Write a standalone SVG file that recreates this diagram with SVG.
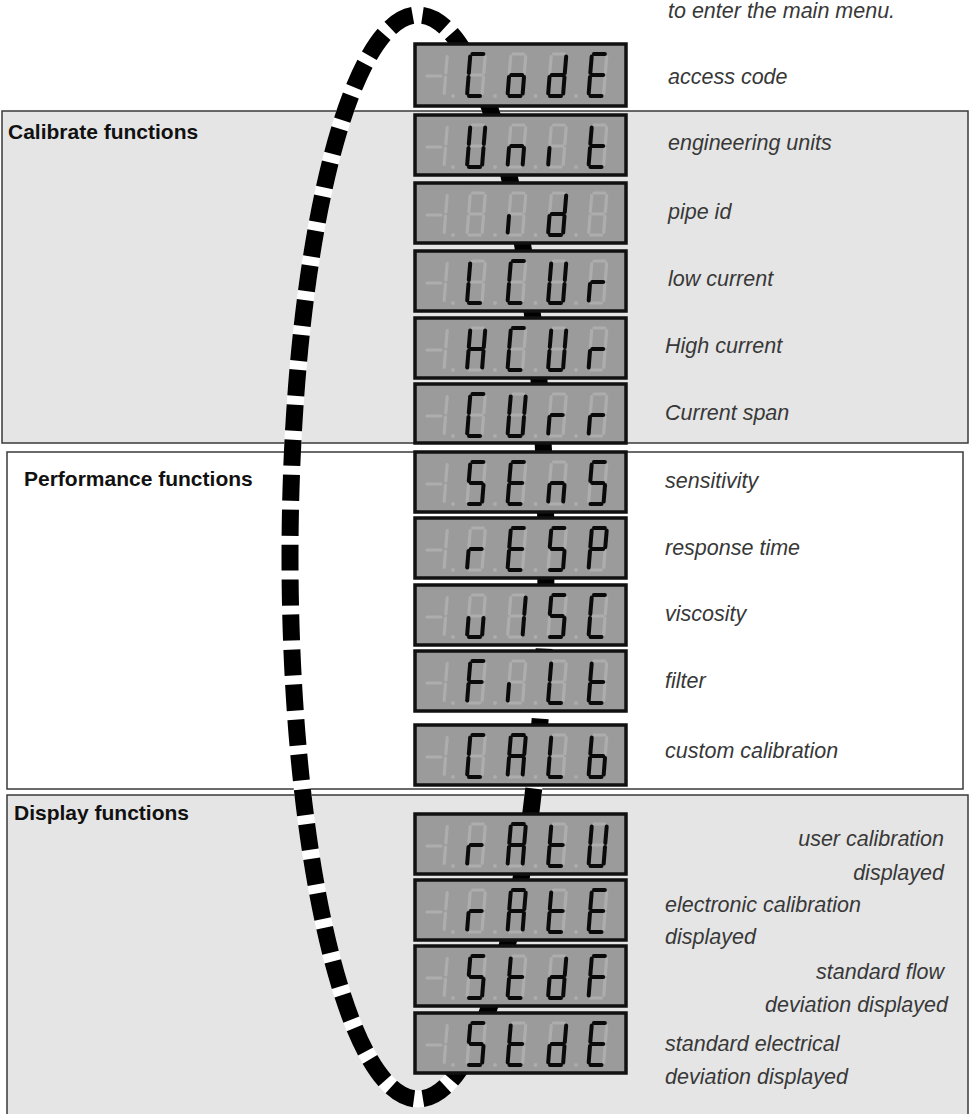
<svg xmlns="http://www.w3.org/2000/svg" xmlns:xlink="http://www.w3.org/1999/xlink" width="971" height="1114" viewBox="0 0 971 1114">
<style>
.sec{stroke:#3a3a3a;stroke-width:1.5}
.title{font-family:"Liberation Sans",Arial,sans-serif;font-weight:bold;font-size:21px;fill:#111}
.lbl{font-family:"Liberation Sans",Arial,sans-serif;font-style:italic;font-size:21.5px;fill:#383838}
.disp{fill:#9b9b9b;stroke:#111;stroke-width:3.5}
.on{stroke:#0a0a0a;stroke-width:4;stroke-linecap:round;fill:none}
.off{stroke:#adadad;stroke-width:3.2;stroke-linecap:round;fill:none}
.dot{fill:#adadad}
</style>
<defs>
<path id="sa" d="M5.4,0 H16.4"/>
<path id="sb" d="M18.2,2.5 L16.8,19"/>
<path id="sc" d="M16.5,23 L15.2,39.5"/>
<path id="sd" d="M2,42 H13"/>
<path id="se" d="M1.5,23 L0.2,39.5"/>
<path id="sf" d="M3.2,2.5 L1.8,19"/>
<path id="sg" d="M3.7,21 H14.7"/>
<g id="d8" class="off"><use href="#sa"/><use href="#sb"/><use href="#sc"/><use href="#sd"/><use href="#se"/><use href="#sf"/><use href="#sg"/></g>
<g id="dim">
<path class="off" d="M12,32 H26"/>
<g class="off" transform="translate(14,10)"><use href="#sb"/><use href="#sc"/></g>
<circle class="dot" cx="38" cy="52" r="1.9"/>
<use href="#d8" x="52" y="10"/><circle class="dot" cx="80" cy="52" r="1.9"/>
<use href="#d8" x="92.5" y="10"/><circle class="dot" cx="120.5" cy="52" r="1.9"/>
<use href="#d8" x="133" y="10"/><circle class="dot" cx="161" cy="52" r="1.9"/>
<use href="#d8" x="173.5" y="10"/>
</g>
<g id="LC" class="on"><use href="#sa"/><use href="#sd"/><use href="#se"/><use href="#sf"/></g>
<g id="Lo" class="on"><use href="#sc"/><use href="#sd"/><use href="#se"/><use href="#sg"/></g>
<g id="Ld" class="on"><use href="#sb"/><use href="#sc"/><use href="#sd"/><use href="#se"/><use href="#sg"/></g>
<g id="LE" class="on"><use href="#sa"/><use href="#sd"/><use href="#se"/><use href="#sf"/><use href="#sg"/></g>
<g id="LU" class="on"><use href="#sb"/><use href="#sc"/><use href="#sd"/><use href="#se"/><use href="#sf"/></g>
<g id="Ln" class="on"><use href="#sc"/><use href="#se"/><use href="#sg"/></g>
<g id="Li" class="on"><use href="#se"/></g>
<g id="Lt" class="on"><use href="#sd"/><use href="#se"/><use href="#sf"/><use href="#sg"/></g>
<g id="LL" class="on"><use href="#sd"/><use href="#se"/><use href="#sf"/></g>
<g id="Lr" class="on"><use href="#se"/><use href="#sg"/></g>
<g id="LH" class="on"><use href="#sb"/><use href="#sc"/><use href="#se"/><use href="#sf"/><use href="#sg"/></g>
<g id="LS" class="on"><use href="#sa"/><use href="#sc"/><use href="#sd"/><use href="#sf"/><use href="#sg"/></g>
<g id="LP" class="on"><use href="#sa"/><use href="#sb"/><use href="#se"/><use href="#sf"/><use href="#sg"/></g>
<g id="Lu" class="on"><use href="#sc"/><use href="#sd"/><use href="#se"/></g>
<g id="L1" class="on"><use href="#sb"/><use href="#sc"/></g>
<g id="LF" class="on"><use href="#sa"/><use href="#se"/><use href="#sf"/><use href="#sg"/></g>
<g id="LA" class="on"><use href="#sa"/><use href="#sb"/><use href="#sc"/><use href="#se"/><use href="#sf"/><use href="#sg"/></g>
<g id="Lb" class="on"><use href="#sc"/><use href="#sd"/><use href="#se"/><use href="#sf"/><use href="#sg"/></g>
</defs>
<rect width="971" height="1114" fill="#fff"/>
<g id="sections">
<g id="calibrate"><rect class="sec" x="2" y="111" width="966" height="332" fill="#e5e5e5"/><text class="title" x="8" y="139">Calibrate functions</text></g>
<g id="performance"><rect class="sec" x="7" y="452" width="956" height="337" fill="#fff"/><text class="title" x="24" y="486">Performance functions</text></g>
<g id="display"><rect class="sec" x="7" y="795" width="961" height="330" fill="#e5e5e5"/><text class="title" x="14" y="820">Display functions</text></g>
</g>
<g id="connectors">
<path d="M418,15 A128,542 0 0 1 418,1099 A128,542 0 0 1 418,15" fill="none" stroke="#fff" stroke-width="17"/>
<path d="M418,15 A128,542 0 0 1 418,1099 A128,542 0 0 1 418,15" fill="none" stroke="#000" stroke-width="17" stroke-dasharray="26 9" stroke-dashoffset="30.5"/>
</g>
<g id="n-code" transform="translate(415,44)"><rect class="disp" width="211" height="62"/><use href="#dim"/><use href="#LC" x="52" y="10"/><use href="#Lo" x="92.5" y="10"/><use href="#Ld" x="133" y="10"/><use href="#LE" x="173.5" y="10"/></g>
<g id="n-unit" transform="translate(415,115)"><rect class="disp" width="211" height="60"/><use href="#dim"/><use href="#LU" x="52" y="10"/><use href="#Ln" x="92.5" y="10"/><use href="#Li" x="133" y="10"/><use href="#Lt" x="173.5" y="10"/></g>
<g id="n-id" transform="translate(415,183)"><rect class="disp" width="211" height="60"/><use href="#dim"/><use href="#Li" x="92.5" y="10"/><use href="#Ld" x="133" y="10"/></g>
<g id="n-lcur" transform="translate(415,251)"><rect class="disp" width="211" height="60"/><use href="#dim"/><use href="#LL" x="52" y="10"/><use href="#LC" x="92.5" y="10"/><use href="#LU" x="133" y="10"/><use href="#Lr" x="173.5" y="10"/></g>
<g id="n-hcur" transform="translate(415,318)"><rect class="disp" width="211" height="60"/><use href="#dim"/><use href="#LH" x="52" y="10"/><use href="#LC" x="92.5" y="10"/><use href="#LU" x="133" y="10"/><use href="#Lr" x="173.5" y="10"/></g>
<g id="n-curr" transform="translate(415,384)"><rect class="disp" width="211" height="59"/><use href="#dim"/><use href="#LC" x="52" y="10"/><use href="#LU" x="92.5" y="10"/><use href="#Lr" x="133" y="10"/><use href="#Lr" x="173.5" y="10"/></g>
<g id="n-sens" transform="translate(415,452)"><rect class="disp" width="211" height="60"/><use href="#dim"/><use href="#LS" x="52" y="10"/><use href="#LE" x="92.5" y="10"/><use href="#Ln" x="133" y="10"/><use href="#LS" x="173.5" y="10"/></g>
<g id="n-resp" transform="translate(415,518)"><rect class="disp" width="211" height="60"/><use href="#dim"/><use href="#Lr" x="52" y="10"/><use href="#LE" x="92.5" y="10"/><use href="#LS" x="133" y="10"/><use href="#LP" x="173.5" y="10"/></g>
<g id="n-visc" transform="translate(415,585)"><rect class="disp" width="211" height="60"/><use href="#dim"/><use href="#Lu" x="52" y="10"/><use href="#L1" x="92.5" y="10"/><use href="#LS" x="133" y="10"/><use href="#LC" x="173.5" y="10"/></g>
<g id="n-filt" transform="translate(415,651)"><rect class="disp" width="211" height="60"/><use href="#dim"/><use href="#LF" x="52" y="10"/><use href="#Li" x="92.5" y="10"/><use href="#LL" x="133" y="10"/><use href="#Lt" x="173.5" y="10"/></g>
<g id="n-calb" transform="translate(415,725)"><rect class="disp" width="211" height="60"/><use href="#dim"/><use href="#LC" x="52" y="10"/><use href="#LA" x="92.5" y="10"/><use href="#LL" x="133" y="10"/><use href="#Lb" x="173.5" y="10"/></g>
<g id="n-ratu" transform="translate(415,814)"><rect class="disp" width="211" height="60"/><use href="#dim"/><use href="#Lr" x="52" y="10"/><use href="#LA" x="92.5" y="10"/><use href="#Lt" x="133" y="10"/><use href="#LU" x="173.5" y="10"/></g>
<g id="n-rate" transform="translate(415,880)"><rect class="disp" width="211" height="60"/><use href="#dim"/><use href="#Lr" x="52" y="10"/><use href="#LA" x="92.5" y="10"/><use href="#Lt" x="133" y="10"/><use href="#LE" x="173.5" y="10"/></g>
<g id="n-stdf" transform="translate(415,946)"><rect class="disp" width="211" height="60"/><use href="#dim"/><use href="#LS" x="52" y="10"/><use href="#Lt" x="92.5" y="10"/><use href="#Ld" x="133" y="10"/><use href="#LF" x="173.5" y="10"/></g>
<g id="n-stde" transform="translate(415,1013)"><rect class="disp" width="211" height="60"/><use href="#dim"/><use href="#LS" x="52" y="10"/><use href="#Lt" x="92.5" y="10"/><use href="#Ld" x="133" y="10"/><use href="#LE" x="173.5" y="10"/></g>
<g id="labels">
<text class="lbl" x="668" y="18">to enter the main menu.</text>
<text class="lbl" x="668" y="84">access code</text>
<text class="lbl" x="668" y="150">engineering units</text>
<text class="lbl" x="668" y="219">pipe id</text>
<text class="lbl" x="668" y="286">low current</text>
<text class="lbl" x="665" y="353">High current</text>
<text class="lbl" x="665" y="420">Current span</text>
<text class="lbl" x="665" y="488">sensitivity</text>
<text class="lbl" x="665" y="555">response time</text>
<text class="lbl" x="665" y="621">viscosity</text>
<text class="lbl" x="665" y="688">filter</text>
<text class="lbl" x="665" y="758">custom calibration</text>
<text class="lbl" x="944" y="846" text-anchor="end">user calibration</text>
<text class="lbl" x="944" y="880" text-anchor="end">displayed</text>
<text class="lbl" x="665" y="912">electronic calibration</text>
<text class="lbl" x="665" y="944">displayed</text>
<text class="lbl" x="944" y="979" text-anchor="end">standard flow</text>
<text class="lbl" x="948" y="1012" text-anchor="end">deviation displayed</text>
<text class="lbl" x="665" y="1051">standard electrical</text>
<text class="lbl" x="665" y="1084">deviation displayed</text>
</g>
</svg>
